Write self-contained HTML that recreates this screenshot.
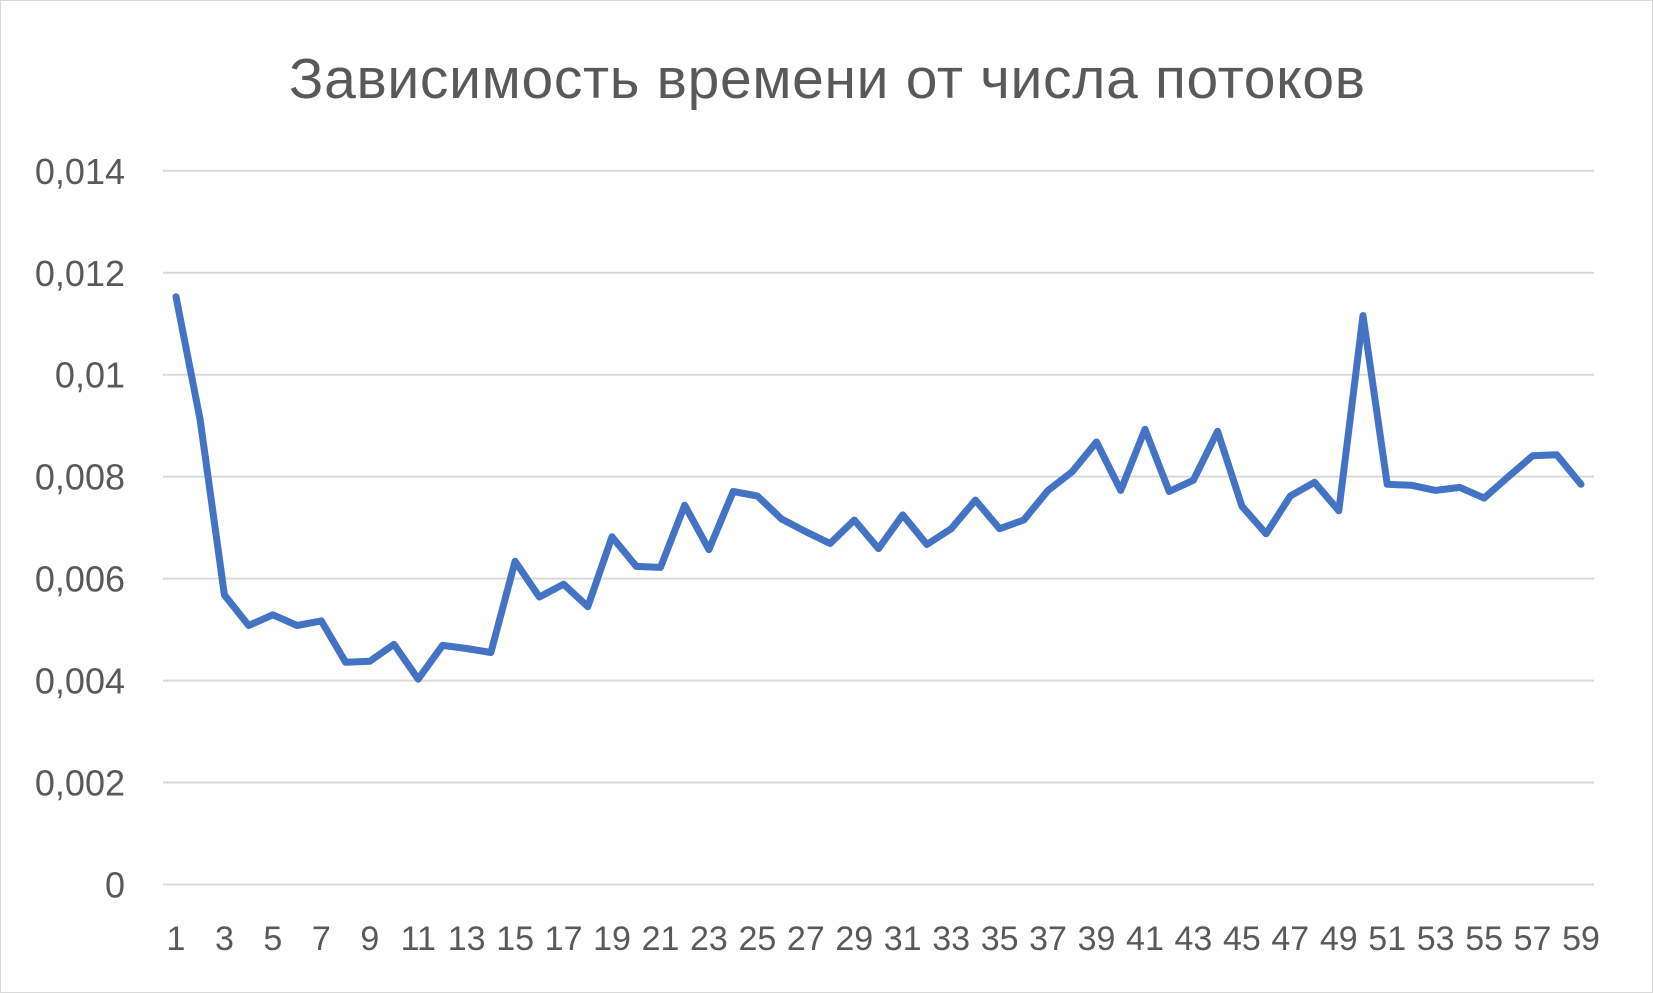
<!DOCTYPE html>
<html><head><meta charset="utf-8">
<style>
html,body{margin:0;padding:0;background:#fff;}
svg{display:block;}
text{font-family:"Liberation Sans","DejaVu Sans",sans-serif;fill:#595959;}
</style></head>
<body>
<svg id="chart" width="1653" height="993" viewBox="0 0 1653 993">
<rect x="0.5" y="0.5" width="1652" height="992" fill="#fff" stroke="#d9d9d9"/>
<text x="827" y="98" font-size="57" text-anchor="middle" textLength="1076" lengthAdjust="spacing">Зависимость времени от числа потоков</text>
<g id="grid"></g><g id="ylabels"></g><g id="xlabels"></g><g id="series"></g>
</svg>
<script>
const categories = [];
for (let i = 1; i <= 59; i++) categories.push(i);
const values = [0.01153,0.00911,0.00568,0.00508,0.00529,0.00508,0.00517,0.00436,0.00438,0.00471,
0.00403,0.00469,0.00463,0.00455,0.00634,0.00564,0.00589,0.00545,0.00682,0.00624,
0.00622,0.00744,0.00657,0.00771,0.00762,0.00717,0.00692,0.00669,0.00715,0.00659,
0.00725,0.00667,0.00698,0.00754,0.00698,0.00715,0.00773,0.0081,0.00868,0.00773,
0.00893,0.00771,0.00793,0.00889,0.00742,0.00688,0.00762,0.00789,0.00733,0.01116,
0.00785,0.00783,0.00773,0.00779,0.00758,0.008,0.00841,0.00843,0.00785];
const yTicks = [0,0.002,0.004,0.006,0.008,0.01,0.012,0.014];
const yTickLabels = ["0","0,002","0,004","0,006","0,008","0,01","0,012","0,014"];

const NS="http://www.w3.org/2000/svg";
const plotL=163, plotR=1594, yBottom=884.5, yTop=170.8, yMax=0.014;
const x1=176, xN=1581;
function xScale(i){return x1+(xN-x1)*i/(categories.length-1);}
function yScale(v){return yBottom-(yBottom-yTop)*v/yMax;}

const grid=document.getElementById('grid'), yl=document.getElementById('ylabels'), xl=document.getElementById('xlabels'), ser=document.getElementById('series');
yTicks.forEach((t,i)=>{
  const y=yScale(t);
  const ln=document.createElementNS(NS,'line');
  ln.setAttribute('x1',plotL);ln.setAttribute('x2',plotR);ln.setAttribute('y1',y);ln.setAttribute('y2',y);
  ln.setAttribute('stroke','#d9d9d9');ln.setAttribute('stroke-width','2');
  
  
  grid.appendChild(ln);
  const tx=document.createElementNS(NS,'text');
  tx.setAttribute('x',125);tx.setAttribute('y',y+13);tx.setAttribute('font-size','36');tx.setAttribute('text-anchor','end');
  tx.textContent=yTickLabels[i];
  
  
  yl.appendChild(tx);
});
categories.forEach((c,i)=>{
  if(i%2!==0) return;
  const tx=document.createElementNS(NS,'text');
  tx.setAttribute('x',xScale(i));tx.setAttribute('y',950);tx.setAttribute('font-size','34');tx.setAttribute('text-anchor','middle');
  tx.textContent=c;
  
  
  xl.appendChild(tx);
});
const pts=values.map((v,i)=>xScale(i).toFixed(1)+','+yScale(v).toFixed(1)).join(' ');
const pl=document.createElementNS(NS,'polyline');
pl.setAttribute('points',pts);pl.setAttribute('fill','none');pl.setAttribute('stroke','#4472c4');
pl.setAttribute('stroke-width','7');pl.setAttribute('stroke-linejoin','round');pl.setAttribute('stroke-linecap','round');


ser.appendChild(pl);
</script>
</body></html>
